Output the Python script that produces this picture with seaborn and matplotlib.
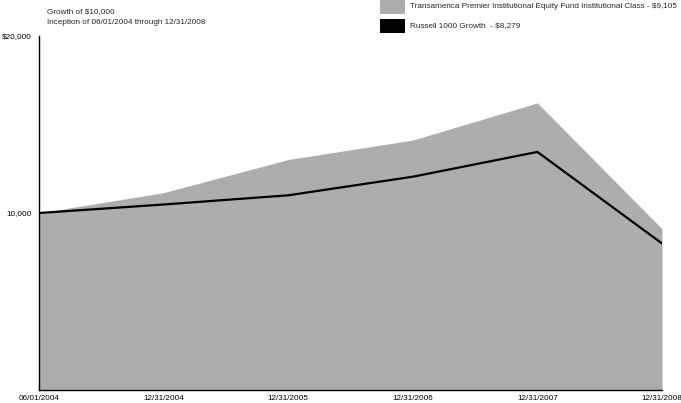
import matplotlib
matplotlib.use("Agg")
import matplotlib.pyplot as plt
import seaborn as sns
import pandas as pd
from matplotlib.patches import Rectangle

dates = ["06/01/2004", "12/31/2004", "12/31/2005", "12/31/2006", "12/31/2007", "12/31/2008"]
fund_values = [10000, 11150, 13020, 14120, 16220, 9105]
index_values = [10000, 10480, 11000, 12050, 13450, 8279]
y_ticks = [10000, 20000]
y_tick_labels = ["10,000", "$20,000"]
fund_label = "Transamerica Premier Institutional Equity Fund Institutional Class - $9,105"
index_label = "Russell 1000 Growth  - $8,279"

sns.set_style("white")
plt.rcParams["font.family"] = ["Liberation Sans", "DejaVu Sans"]

df = pd.DataFrame({"pos": range(len(dates)), "fund": fund_values, "index": index_values})

fig = plt.figure(figsize=(6.81, 4.03), dpi=100)
ax = fig.add_axes([39/681, 1-390/403, (662-39)/681, (390-36)/403])

gray = "#adadad"
fs = 5.9
ax.fill_between(df["pos"], 0, df["fund"], color=gray, linewidth=0)
sns.lineplot(data=df, x="pos", y="index", ax=ax, color="black", linewidth=1.6)

ax.set_xlim(0, len(dates) - 1)
ax.set_ylim(0, 20000)
ax.set_xticks(df["pos"])
ax.set_xticklabels(dates)
ax.set_yticks(y_ticks)
ax.set_yticklabels(y_tick_labels)
ax.set_xlabel("")
ax.set_ylabel("")
for s in ["top", "right"]:
    ax.spines[s].set_visible(False)
for s in ["left", "bottom"]:
    ax.spines[s].set_color("black")
    ax.spines[s].set_linewidth(1.0)
ax.tick_params(axis="both", direction="inout", length=7, width=1, color="black",
               labelsize=fs, labelcolor="black", pad=2)
ax.tick_params(axis="x", pad=0)

fig.text(47/681, 1-12/403, "Growth of $10,000", fontsize=fs, va="center", ha="left")
fig.text(47/681, 1-22/403, "Inception of 06/01/2004 through 12/31/2008", fontsize=fs, va="center", ha="left")

fig.add_artist(Rectangle((380/681, 1-14/403), 25/681, 14/403, transform=fig.transFigure,
                         facecolor=gray, edgecolor="none"))
fig.add_artist(Rectangle((380/681, 1-33/403), 25/681, 14/403, transform=fig.transFigure,
                         facecolor="black", edgecolor="none"))
fig.text(410/681, 1-7/403, fund_label, fontsize=fs, va="center", ha="left")
fig.text(410/681, 1-26/403, index_label, fontsize=fs, va="center", ha="left")

fig.savefig("out.png", dpi=100)
